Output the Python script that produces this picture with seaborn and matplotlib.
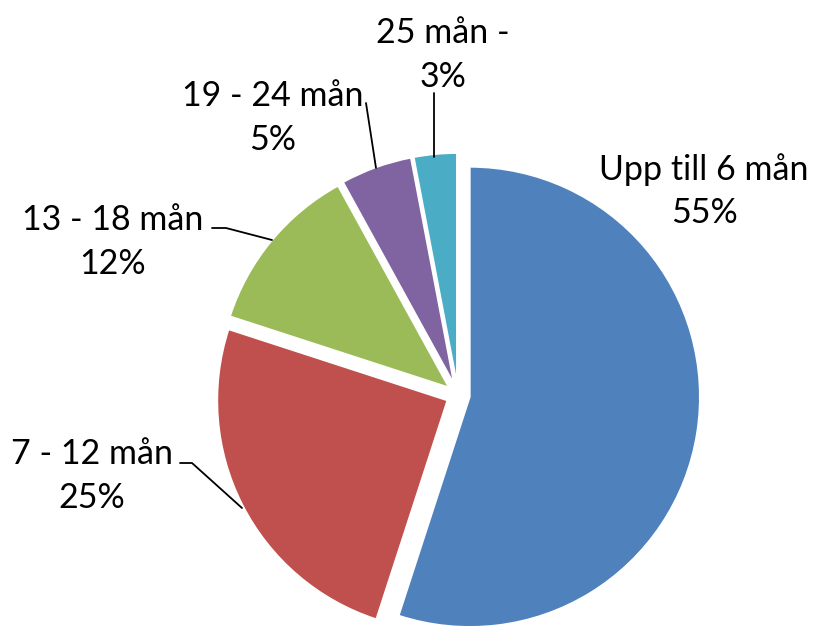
import matplotlib
matplotlib.use("Agg")
import matplotlib.pyplot as plt
import seaborn as sns

categories = ["Upp till 6 mån", "7 - 12 mån", "13 - 18 mån", "19 - 24 mån", "25 mån -"]
values = [55, 25, 12, 5, 3]
pct_labels = ["55%", "25%", "12%", "5%", "3%"]
colors = ["#4F81BD", "#C0504D", "#9BBB59", "#8064A2", "#4BACC6"]

sns.set_theme(style="white")
plt.rcParams['font.family'] = ['Lato', 'DejaVu Sans']

W, H = 813, 629
fig = plt.figure(figsize=(W / 100, H / 100), dpi=100)
ax = fig.add_axes([0, 0, 1, 1])

CX, CY, R = 458, 395, 230  # pixel centre and radius


def px(x, y):
    return ((x - CX) / R, (CY - y) / R)


ax.pie(values, colors=sns.color_palette(colors), startangle=90, counterclock=False,
       explode=[0.052] * len(values), radius=1.0,
       wedgeprops=dict(edgecolor="white", linewidth=1.2))
ax.set_xlim(-CX / R, (W - CX) / R)
ax.set_ylim(-(H - CY) / R, CY / R)
ax.set_aspect("auto")
ax.axis("off")

# label positions (pixel centres) and leader lines
label_pos = [(704, 191), (92, 476), (113, 242), (273, 118), (443, 55)]
leaders = [None,
           [(180, 463), (192, 463), (242, 508)],
           [(212, 228), (226, 228), (272, 240)],
           [(366, 103), (376, 168)],
           [(434, 93), (434, 157)]]

for cat, p, pos, ld in zip(categories, pct_labels, label_pos, leaders):
    x, y = px(*pos)
    ax.text(x, y, f"{cat}\n{p}", ha="center", va="center", fontsize=24.5,
            color="black", linespacing=1.45)
    if ld:
        xs, ys = zip(*[px(a, b) for a, b in ld])
        ax.plot(xs, ys, color="black", lw=1.3)

fig.savefig("out.png", dpi=100)
